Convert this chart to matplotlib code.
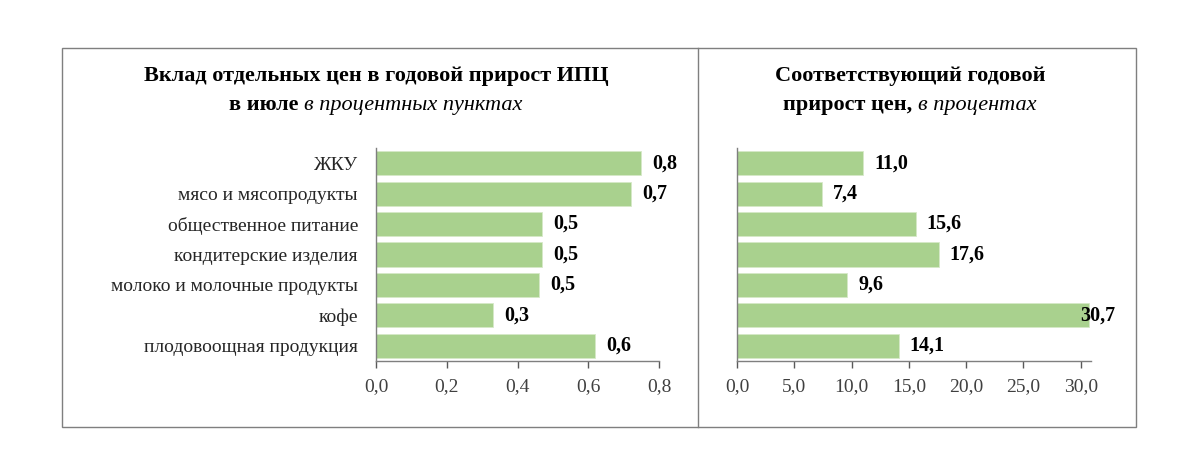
import matplotlib
matplotlib.use("Agg")
import matplotlib.pyplot as plt
from matplotlib.patches import Rectangle
from matplotlib.lines import Line2D

plt.rcParams['font.family'] = ['Liberation Serif', 'DejaVu Serif']

categories = ['ЖКУ', 'мясо и мясопродукты', 'общественное питание',
              'кондитерские изделия', 'молоко и молочные продукты', 'кофе',
              'плодовоощная продукция']
contribution = [0.75, 0.72, 0.47, 0.47, 0.46, 0.33, 0.62]
price_growth = [11.0, 7.4, 15.6, 17.6, 9.6, 30.7, 14.1]

left_ticks = [0.0, 0.2, 0.4, 0.6, 0.8]
right_ticks = [0.0, 5.0, 10.0, 15.0, 20.0, 25.0, 30.0]

BAR = '#a9d18e'
W, H = 1200, 473


def fx(px):
    return px / W


def fy(py):
    return 1 - py / H


def comma(v):
    return f"{v:.1f}".replace('.', ',')


def title_line(fig, parts, xc, y, size=16):
    """parts: list of (text, weight, style); the line is centered at xc"""
    r = fig.canvas.get_renderer()
    texts = []
    for s, w, st in parts:
        t = fig.text(0, y, s, fontsize=size, fontweight=w, fontstyle=st,
                     va='baseline', ha='left', color='black')
        texts.append(t)
    widths = [t.get_window_extent(r).width / W for t in texts]
    x = xc - sum(widths) / 2
    for t, wd in zip(texts, widths):
        t.set_x(x)
        x += wd


def bar_panel(ax, values, ticks, xmax, show_labels):
    y = list(range(len(values)))
    ax.barh(y, values, height=0.79, color=BAR, edgecolor='#d6e9c8', linewidth=0.6)
    ax.set_ylim(len(values) - 0.5, -0.5)
    ax.set_xlim(0, xmax)
    ax.set_xticks(ticks)
    ax.set_xticklabels([comma(t) for t in ticks], fontsize=14, color='#404040')
    ax.tick_params(axis='x', direction='out', length=5, width=1, color='#595959', pad=7)
    ax.set_yticks(y)
    if show_labels:
        ax.set_yticklabels(categories, fontsize=14, color='#262626')
    else:
        ax.set_yticklabels([])
    ax.tick_params(axis='y', length=0, pad=13)
    for s in ['top', 'right']:
        ax.spines[s].set_visible(False)
    for s in ['left', 'bottom']:
        ax.spines[s].set_color('#7f7f7f')
        ax.spines[s].set_linewidth(1)
    for i, v in enumerate(values):
        off = 8 if v < 0.95 * xmax else -6
        ax.annotate(comma(v), (v, i), xytext=(off, 0), textcoords='offset points',
                    ha='left', va='center', fontsize=14.5, fontweight='bold',
                    color='black', annotation_clip=False)


fig = plt.figure(figsize=(12, 4.73), dpi=100)

ax1 = fig.add_axes([fx(376), fy(361), fx(659) - fx(376), fy(148) - fy(361)])
bar_panel(ax1, contribution, left_ticks, 0.8, True)

ax2 = fig.add_axes([fx(737), fy(361), fx(1091) - fx(737), fy(148) - fy(361)])
bar_panel(ax2, price_growth, right_ticks, 30.9, False)

# frame around both panels
fig.patches.append(Rectangle((fx(62), fy(427)), fx(1136) - fx(62), fy(48) - fy(427),
                             transform=fig.transFigure, fill=False,
                             edgecolor='#7f7f7f', linewidth=1))
fig.lines.append(Line2D([fx(698), fx(698)], [fy(427), fy(48)],
                        transform=fig.transFigure, color='#7f7f7f', linewidth=1))

title_line(fig, [('Вклад отдельных цен в годовой прирост ИПЦ', 'bold', 'normal')],
           fx(376), fy(81))
title_line(fig, [('в июле ', 'bold', 'normal'), ('в процентных пунктах', 'normal', 'italic')],
           fx(376), fy(110))
title_line(fig, [('Соответствующий годовой', 'bold', 'normal')], fx(910), fy(81))
title_line(fig, [('прирост цен, ', 'bold', 'normal'), ('в процентах', 'normal', 'italic')],
           fx(910), fy(110))

fig.savefig('out.png', dpi=100, facecolor='white')
